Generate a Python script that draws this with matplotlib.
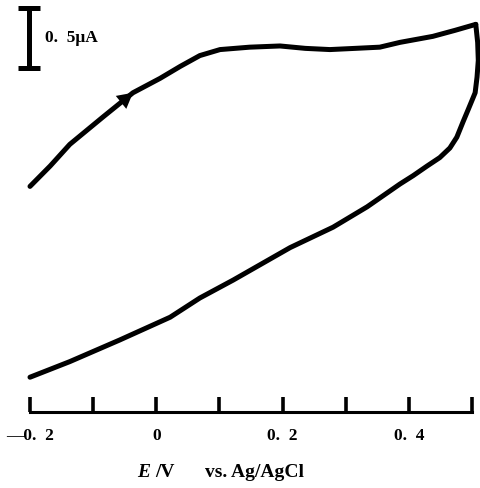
import matplotlib
matplotlib.use("Agg")
import matplotlib.pyplot as plt

# forward scan (upper branch), E in V, current in uA (axis line = 0)
fwd_E = [-0.200, -0.168, -0.137, -0.084, -0.037, 0.006, 0.038, 0.069, 0.101,
         0.148, 0.196, 0.236, 0.275, 0.315, 0.354, 0.386, 0.438, 0.473, 0.506]
fwd_i = [1.88, 2.05, 2.23, 2.46, 2.66, 2.78, 2.88, 2.97, 3.02,
         3.04, 3.05, 3.03, 3.02, 3.03, 3.04, 3.08, 3.13, 3.18, 3.23]

# reverse scan (lower branch)
rev_E = [0.506, 0.509, 0.510, 0.508, 0.505, 0.494, 0.486, 0.476, 0.465, 0.449, 0.429,
         0.407, 0.386, 0.334, 0.280, 0.212, 0.122, 0.069, 0.022, -0.058, -0.137, -0.200]
rev_i = [3.23, 3.08, 2.93, 2.79, 2.66, 2.52, 2.42, 2.29, 2.20, 2.12, 2.05,
         1.97, 1.90, 1.71, 1.54, 1.37, 1.10, 0.95, 0.79, 0.60, 0.42, 0.29]

ticks = [-0.2, -0.1, 0.0, 0.1, 0.2, 0.3, 0.4, 0.5]
tick_labels = ["\u20140.\u20022", "", "0", "", "0.\u20022", "", "0.\u20024", ""]
scale_bar = 0.5   # uA
scale_label = "0.\u20025\u03bcA"

plt.rcParams["font.family"] = ["Liberation Serif", "DejaVu Serif"]
plt.rcParams["font.weight"] = "bold"

fig = plt.figure(figsize=(4.8, 4.88), dpi=100)
ax = fig.add_axes([0, 0, 1, 1])
ax.set_xlim(-0.2475, 0.5127)
ax.set_ylim(-0.633, 3.433)

ax.plot(fwd_E, fwd_i, color="black", lw=3.6, solid_capstyle="round", solid_joinstyle="round")
ax.plot(rev_E, rev_i, color="black", lw=3.6, solid_capstyle="round", solid_joinstyle="round")

# direction arrow on forward branch
ax.annotate("", xy=(fwd_E[4], fwd_i[4]), xytext=(fwd_E[3], fwd_i[3]),
            arrowprops=dict(arrowstyle="-|>,head_length=1.1,head_width=0.6",
                            color="black", lw=0, shrinkA=0, shrinkB=0))

# scale bar
bar_E = -0.2015
bar_top = 3.367
ax.errorbar([bar_E], [bar_top - scale_bar / 2], yerr=[scale_bar / 2], color="black",
            lw=3.6, capsize=8, capthick=3.6)
ax.text(bar_E + 0.025, bar_top - scale_bar / 2, scale_label, fontsize=12.5,
        fontweight="bold", va="center", ha="left")

# axis
for s in ["left", "right", "top"]:
    ax.spines[s].set_visible(False)
ax.spines["bottom"].set_position(("data", 0))
ax.spines["bottom"].set_bounds(-0.2, 0.5)
ax.spines["bottom"].set_linewidth(2.2)
ax.set_yticks([])
ax.set_xticks(ticks)
ax.set_xticklabels(tick_labels)
ax.tick_params(axis="x", direction="in", length=11, width=2.6, pad=11.5, labelsize=12.5)
for lab in ax.get_xticklabels():
    lab.set_fontweight("bold")

fig.text(0.285, 0.0225, "E", fontsize=14, fontstyle="italic", fontweight="bold", ha="left", va="baseline")
fig.text(0.323, 0.0225, "/V", fontsize=14, fontweight="bold", ha="left", va="baseline")
fig.text(0.427, 0.0225, "vs. Ag/AgCl", fontsize=14, fontweight="bold", ha="left", va="baseline")

fig.savefig("out.png", dpi=100)
